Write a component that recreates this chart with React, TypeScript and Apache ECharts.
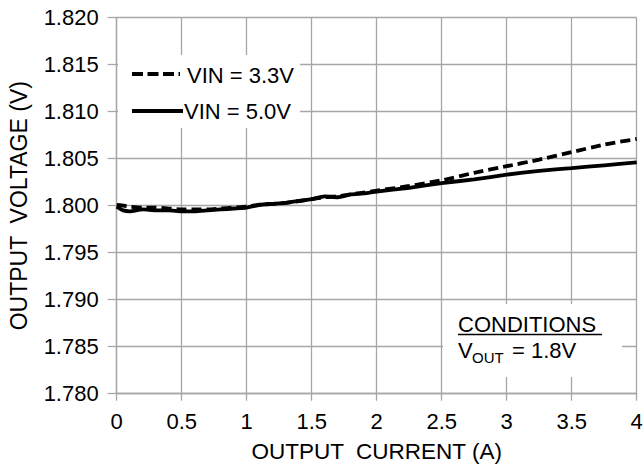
import React, { useEffect, useRef } from "react";
import * as echarts from "echarts";

const titleText = "Output Voltage vs. Output Current";
const xAxisName = "OUTPUT  CURRENT (A)";
const yAxisName = "OUTPUT  VOLTAGE (V)";
const seriesNames = ["VIN = 3.3V", "VIN = 5.0V"];

const current = [0, 0.05, 0.1, 0.2, 0.3, 0.4, 0.5, 0.6, 0.7, 0.8, 0.9, 1.0, 1.1, 1.2, 1.3, 1.4, 1.5, 1.6, 1.7, 1.8, 1.9, 2.0, 2.25, 2.5, 2.75, 3.0, 3.25, 3.5, 3.75, 4.0];
const vin33 = [1.8001, 1.8000, 1.7999, 1.7998, 1.7998, 1.7997, 1.7996, 1.7996, 1.7996, 1.7997, 1.7998, 1.7999, 1.8001, 1.8002, 1.8003, 1.8005, 1.8007, 1.8009, 1.8010, 1.8012, 1.8014, 1.8016, 1.8021, 1.8027, 1.8035, 1.8042, 1.8049, 1.8057, 1.8065, 1.8071];
const vin50 = [1.7999, 1.7995, 1.7994, 1.7996, 1.7995, 1.7995, 1.7994, 1.7994, 1.7995, 1.7996, 1.7997, 1.7998, 1.8001, 1.8002, 1.8003, 1.8005, 1.8007, 1.8010, 1.8009, 1.8012, 1.8013, 1.8015, 1.8019, 1.8024, 1.8028, 1.8033, 1.8037, 1.8040, 1.8043, 1.8046];

const yMin = 1.78;
const yMax = 1.82;
const yStep = 0.005;
const xMin = 0;
const xMax = 4;
const xStep = 0.5;

const conditionsTitle = "CONDITIONS";
const conditionsV = "V";
const conditionsSub = "OUT";
const conditionsRest = "= 1.8V";

const FONT = "'Liberation Sans', Arial, sans-serif";
const GRID = "#a6a6a6";

export default function App() {
  const ref = useRef<HTMLDivElement>(null);
  useEffect(() => {
    if (!ref.current) return;
    const chart = echarts.init(ref.current, null, { renderer: "svg" });
    const pair = (ys: number[]) => current.map((x, i) => [x, ys[i]]);
    chart.setOption({
      animation: false,
      backgroundColor: "#ffffff",
      textStyle: { fontFamily: FONT },
      grid: { left: 116.7, right: 6.3, top: 17.7, bottom: 70.3, containLabel: false, outerBoundsMode: "none" },
      xAxis: {
        type: "value",
        min: xMin,
        max: xMax,
        interval: xStep,
        name: xAxisName,
        nameLocation: "middle",
        nameGap: 46,
        nameTextStyle: { fontFamily: FONT, fontSize: 22.5, color: "#000" },
        axisLine: { show: true, lineStyle: { color: GRID, width: 1.3 } },
        axisTick: { show: true, length: 7, lineStyle: { color: GRID, width: 1.3 } },
        splitLine: { show: true, lineStyle: { color: GRID, width: 1.3 } },
        axisLabel: { fontFamily: FONT, fontSize: 22, color: "#000", margin: 17, formatter: (v: number) => String(v) },
      },
      yAxis: {
        type: "value",
        min: yMin,
        max: yMax,
        interval: yStep,
        name: yAxisName,
        nameLocation: "middle",
        nameGap: 86,
        nameTextStyle: { fontFamily: FONT, fontSize: 23, color: "#000" },
        axisLine: { show: true, lineStyle: { color: GRID, width: 1.3 } },
        axisTick: { show: true, length: 9, lineStyle: { color: GRID, width: 1.3 } },
        splitLine: { show: true, lineStyle: { color: GRID, width: 1.3 } },
        axisLabel: { fontFamily: FONT, fontSize: 22, color: "#000", margin: 18, formatter: (v: number) => v.toFixed(3) },
      },
      series: [
        {
          name: seriesNames[0],
          type: "line",
          data: pair(vin33),
          showSymbol: false,
          symbol: "none",
          smooth: 0.2,
          lineStyle: { color: "#000", width: 3.8, type: [10, 5] },
          z: 3,
        },
        {
          name: seriesNames[1],
          type: "line",
          data: pair(vin50),
          showSymbol: false,
          symbol: "none",
          smooth: 0.2,
          lineStyle: { color: "#000", width: 3.8, type: "solid" },
          z: 2,
        },
      ],
      graphic: [
        {
          type: "text",
          x: 119.5,
          y: -19,
          style: { text: titleText, font: `bold 30px ${FONT}`, fill: "#000", align: "left", verticalAlign: "middle" },
        },
        {
          type: "rect",
          shape: { x: 118, y: 55, width: 182, height: 73 },
          style: { fill: "#ffffff" },
          z: 10,
        },
        {
          type: "line",
          z: 11,
          shape: { x1: 132, y1: 74, x2: 180, y2: 74 },
          style: { stroke: "#000", lineWidth: 4, lineDash: [11, 4.5] },
        },
        {
          type: "text",
          x: 187,
          y: 75,
          z: 11,
          style: { text: seriesNames[0], font: `22px ${FONT}`, fill: "#000", align: "left", verticalAlign: "middle" },
        },
        {
          type: "line",
          z: 11,
          shape: { x1: 132, y1: 111, x2: 183, y2: 111 },
          style: { stroke: "#000", lineWidth: 4 },
        },
        {
          type: "text",
          x: 184,
          y: 111,
          z: 11,
          style: { text: seriesNames[1], font: `22px ${FONT}`, fill: "#000", align: "left", verticalAlign: "middle" },
        },
        {
          type: "rect",
          shape: { x: 443, y: 304, width: 179, height: 73 },
          style: { fill: "#ffffff" },
          z: 10,
        },
        {
          type: "text",
          x: 458,
          y: 324,
          z: 11,
          style: { text: conditionsTitle, font: `22px ${FONT}`, fill: "#000", align: "left", verticalAlign: "middle" },
        },
        {
          type: "line",
          z: 11,
          shape: { x1: 458, y1: 334.5, x2: 602, y2: 334.5 },
          style: { stroke: "#000", lineWidth: 1.3 },
        },
        {
          type: "text",
          x: 458,
          y: 350,
          z: 11,
          style: { text: conditionsV, font: `22px ${FONT}`, fill: "#000", align: "left", verticalAlign: "middle" },
        },
        {
          type: "text",
          x: 472,
          y: 357,
          z: 11,
          style: { text: conditionsSub, font: `15px ${FONT}`, fill: "#000", align: "left", verticalAlign: "middle" },
        },
        {
          type: "text",
          x: 512,
          y: 350,
          z: 11,
          style: { text: conditionsRest, font: `22px ${FONT}`, fill: "#000", align: "left", verticalAlign: "middle" },
        },
      ],
    });
    return () => chart.dispose();
  }, []);
  return <div ref={ref} style={{ position: "absolute", left: 0, top: 0, width: 643, height: 464 }} />;
}
